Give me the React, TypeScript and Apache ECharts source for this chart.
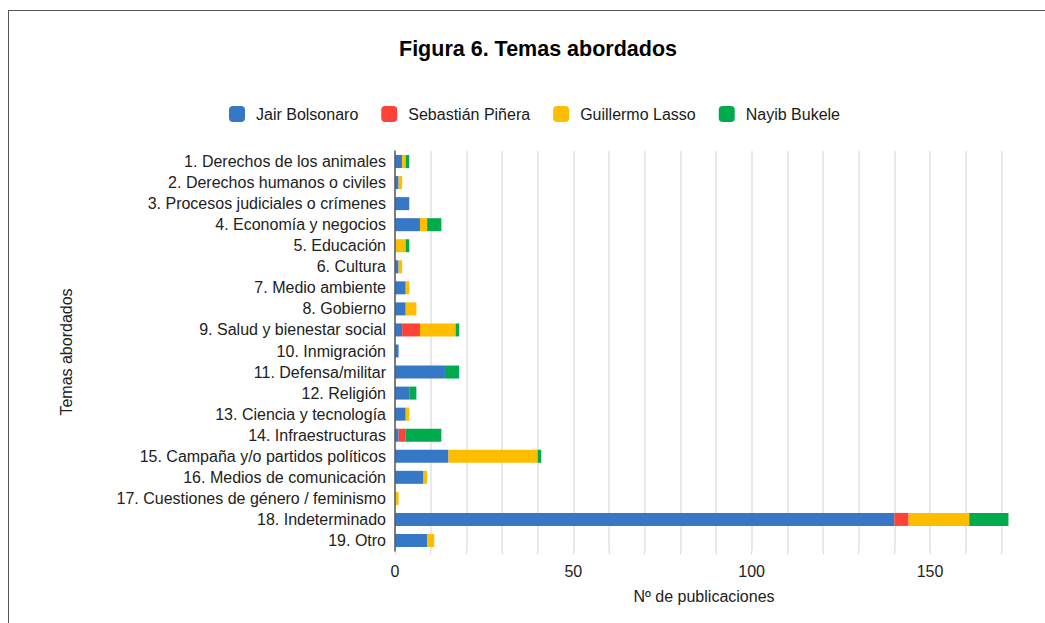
import React, { useEffect, useRef } from "react";
import * as echarts from "echarts";

const categories = [
  "1. Derechos de los animales",
  "2. Derechos humanos o civiles",
  "3. Procesos judiciales o crímenes",
  "4. Economía y negocios",
  "5. Educación",
  "6. Cultura",
  "7. Medio ambiente",
  "8. Gobierno",
  "9. Salud y bienestar social",
  "10. Inmigración",
  "11. Defensa/militar",
  "12. Religión",
  "13. Ciencia y tecnología",
  "14. Infraestructuras",
  "15. Campaña y/o partidos políticos",
  "16. Medios de comunicación",
  "17. Cuestiones de género / feminismo",
  "18. Indeterminado",
  "19. Otro",
];

const bolsonaro = [2, 1, 4, 7, 0, 1, 3, 3, 2, 1, 14, 4, 3, 1, 15, 8, 0, 140, 9];
const pinera = [0, 0, 0, 0, 0, 0, 0, 0, 5, 0, 0, 0, 0, 2, 0, 0, 0, 4, 0];
const lasso = [1, 1, 0, 2, 3, 1, 1, 3, 10, 0, 0, 0, 1, 0, 25, 1, 1, 17, 2];
const bukele = [1, 0, 0, 4, 1, 0, 0, 0, 1, 0, 4, 2, 0, 10, 1, 0, 0, 11, 0];

const seriesNames = ["Jair Bolsonaro", "Sebastián Piñera", "Guillermo Lasso", "Nayib Bukele"];
const seriesColors = ["#3778c6", "#fd4337", "#ffbd00", "#00ab4e"];
const seriesData = [bolsonaro, pinera, lasso, bukele];

const title = "Figura 6. Temas abordados";
const xAxisTitle = "Nº de publicaciones";
const yAxisTitle = "Temas abordados";

// axis range: full plot width covers 0..180, gridlines drawn up to 170
const axisMax = 180;
const gridMax = 170;
const tickStep = 10;
const labelStep = 50;

const FONT = "'Liberation Sans', Arial, Helvetica, sans-serif";

const PLOT_LEFT = 395;
const PLOT_RIGHT_PX = 1037;
const WIDTH = 1045;
const gridRight = WIDTH - PLOT_RIGHT_PX;
const gridLineRight =
  WIDTH - (PLOT_LEFT + ((PLOT_RIGHT_PX - PLOT_LEFT) * gridMax) / axisMax);

export default function App() {
  const ref = useRef<HTMLDivElement>(null);

  useEffect(() => {
    if (!ref.current) return;
    const chart = echarts.init(ref.current, null, { renderer: "svg" });
    chart.setOption({
      animation: false,
      backgroundColor: "#ffffff",
      textStyle: { fontFamily: FONT },
      title: {
        text: title,
        left: 533,
        top: 33,
        textAlign: "center",
        textStyle: { fontFamily: FONT, fontSize: 21.5, fontWeight: "bold", color: "#000" },
      },
      legend: {
        left: 224,
        top: 101,
        itemWidth: 16,
        itemHeight: 16,
        itemGap: 23,
        icon: "roundRect",
        textStyle: { fontFamily: FONT, fontSize: 16, color: "#1a1a1a", padding: [0, 0, 0, 6] },
        data: seriesNames,
      },
      grid: [
        { left: PLOT_LEFT, right: gridRight, top: 151, bottom: 72, containLabel: false },
        { left: PLOT_LEFT, right: gridLineRight, top: 151, bottom: 72, containLabel: false },
      ],
      xAxis: [
        {
          type: "value",
          gridIndex: 0,
          min: 0,
          max: axisMax,
          interval: tickStep,
          axisLine: { show: false },
          axisTick: { show: false },
          axisLabel: {
            fontFamily: FONT,
            fontSize: 16,
            color: "#222",
            margin: 12,
            formatter: (v: number) => (v % labelStep === 0 && v < axisMax ? String(v) : ""),
          },
          splitLine: { show: false },
        },
        {
          type: "value",
          gridIndex: 1,
          min: 0,
          max: gridMax,
          interval: tickStep,
          axisLine: { show: false },
          axisTick: { show: true, length: 3, lineStyle: { color: "#d9d9d9" } },
          axisLabel: { show: false },
          splitLine: { show: true, lineStyle: { color: "#e2e2e2", width: 1.5 } },
        },
      ],
      yAxis: [
        {
          type: "category",
          gridIndex: 0,
          inverse: true,
          data: categories,
          z: 3,
          axisLine: { show: true, lineStyle: { color: "#5a5a5a", width: 1.5 } },
          axisTick: { show: false },
          axisLabel: { fontFamily: FONT, fontSize: 16, color: "#222", margin: 9 },
          splitLine: { show: false },
        },
        {
          type: "value",
          gridIndex: 1,
          show: false,
          min: 0,
          max: 1,
        },
      ],
      series: seriesNames.map((name, i) => ({
        name,
        type: "bar",
        stack: "total",
        xAxisIndex: 0,
        yAxisIndex: 0,
        barWidth: 13,
        data: seriesData[i],
        itemStyle: { color: seriesColors[i] },
        emphasis: { disabled: true },
      })),
      graphic: [
        {
          type: "line",
          shape: { x1: 8, y1: 10.5, x2: 1045, y2: 10.5 },
          style: { stroke: "#555", lineWidth: 1 },
        },
        {
          type: "line",
          shape: { x1: 8.5, y1: 10, x2: 8.5, y2: 623 },
          style: { stroke: "#555", lineWidth: 1 },
        },
        {
          type: "text",
          x: 66,
          y: 352,
          rotation: Math.PI / 2,
          style: {
            text: yAxisTitle,
            fontFamily: FONT,
            fontSize: 16,
            fill: "#222",
            align: "center",
            verticalAlign: "middle",
          },
        },
        {
          type: "text",
          x: 704,
          y: 596,
          style: {
            text: xAxisTitle,
            fontFamily: FONT,
            fontSize: 16,
            fill: "#222",
            align: "center",
            verticalAlign: "middle",
          },
        },
      ],
    });
    return () => chart.dispose();
  }, []);

  return (
    <div
      ref={ref}
      style={{ position: "absolute", left: 0, top: 0, width: 1045, height: 623 }}
    />
  );
}
